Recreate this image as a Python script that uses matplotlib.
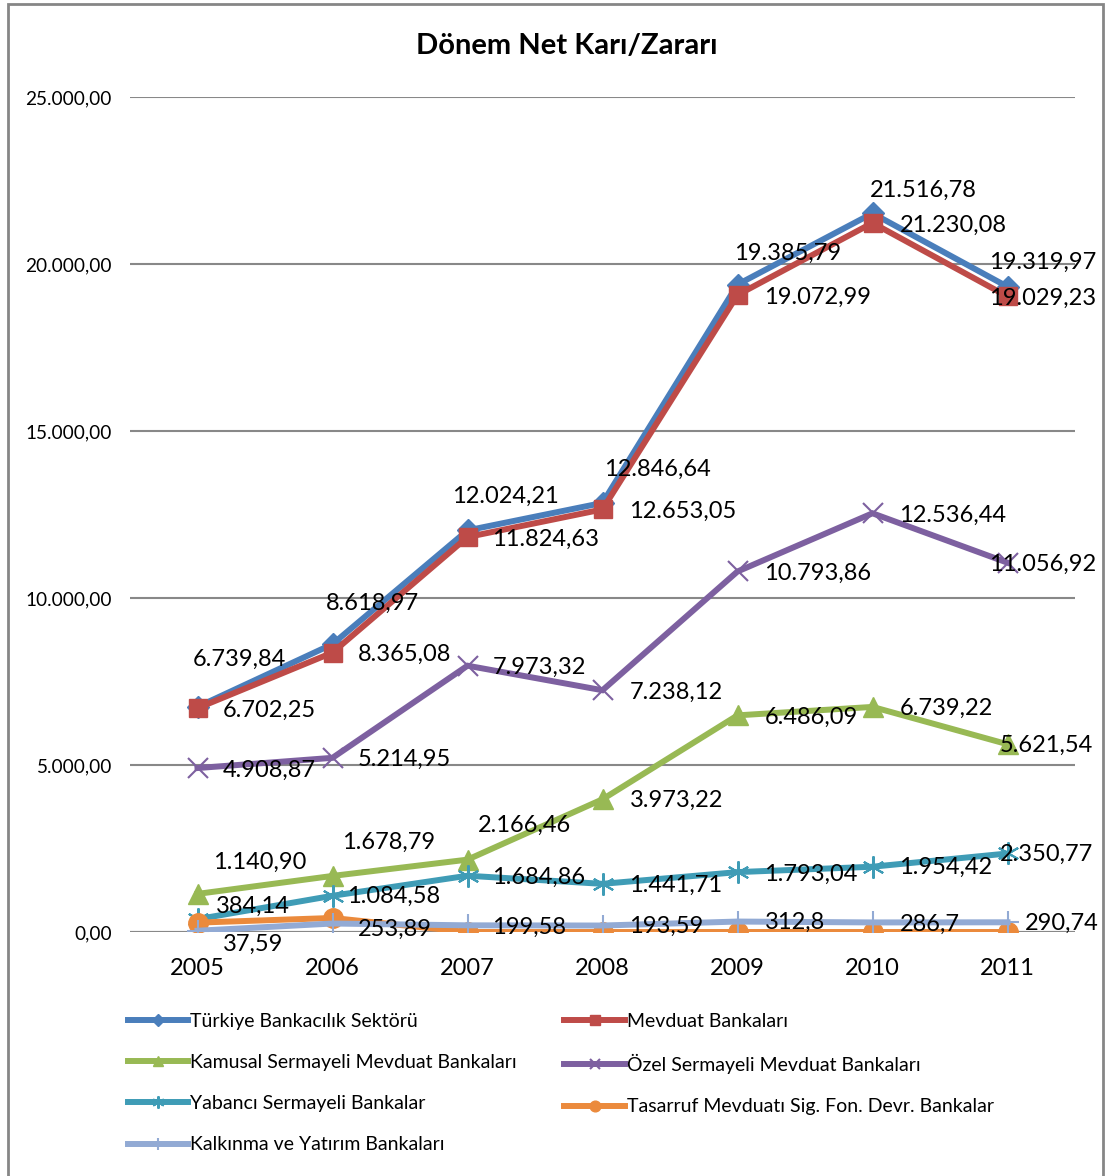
import matplotlib as mpl
mpl.use('Agg')
import matplotlib.pyplot as plt
from matplotlib.patches import Rectangle

plt.rcParams['font.family'] = ['Lato', 'DejaVu Sans']

years = ['2005', '2006', '2007', '2008', '2009', '2010', '2011']

turkiye = [6739.84, 8618.97, 12024.21, 12846.64, 19385.79, 21516.78, 19319.97]
mevduat = [6702.25, 8365.08, 11824.63, 12653.05, 19072.99, 21230.08, 19029.23]
kamusal = [1140.90, 1678.79, 2166.46, 3973.22, 6486.09, 6739.22, 5621.54]
ozel = [4908.87, 5214.95, 7973.32, 7238.12, 10793.86, 12536.44, 11056.92]
yabanci = [384.14, 1084.58, 1684.86, 1441.71, 1793.04, 1954.42, 2350.77]
tasarruf = [280.0, 420.0, 0.0, 0.0, 0.0, 0.0, 0.0]
kalkinma = [37.59, 253.89, 199.58, 193.59, 312.8, 286.7, 290.74]

names = ['Türkiye Bankacılık Sektörü', 'Mevduat Bankaları',
         'Kamusal Sermayeli Mevduat Bankaları', 'Özel Sermayeli Mevduat Bankaları',
         'Yabancı Sermayeli Bankalar', 'Tasarruf Mevduatı Sig. Fon. Devr. Bankalar',
         'Kalkınma ve Yatırım Bankaları']

yticks = [0, 5000, 10000, 15000, 20000, 25000]


def tr_fmt(v, dec=2):
    s = '{:,.{}f}'.format(v, dec)
    return s.replace(',', 'X').replace('.', ',').replace('X', '.')


# series: values, colour, marker, marker size, mew, show labels, label offsets (px)
series = [
    (turkiye, '#4A7EBB', 'D', 11, 1, True,
     [(-5, 48), (-7, 41), (-15, 34), (2, 34), (-3, 31), (-3, 23), (-18, 24)]),
    (mevduat, '#BE4B48', 's', 13, 1, True,
     [(25, -2), (25, -2), (25, -2), (27, -2), (27, -2), (27, -2), (-18, -2)]),
    (kamusal, '#98B954', '^', 14, 1, True,
     [(16, 32), (10, 34), (10, 34), (27, -1), (27, -2), (27, -1), (-8, -1)]),
    (ozel, '#7D60A0', 'x', 14, 1.5, True,
     [(25, -2), (25, -2), (25, -2), (27, -2), (27, -2), (27, -2), (-18, -2)]),
    (yabanci, '#3F9CB6', (6, 2, 0), 16, 1.5, True,
     [(18, 13), (15, -1), (25, -2), (27, -1), (27, -2), (27, -1), (-8, -1)]),
    (tasarruf, '#EB8A3C', 'o', 14, 1, False, None),
    (kalkinma, '#92AAD4', '+', 16, 1.5, True,
     [(25, -14), (25, -6), (25, -2), (27, -1), (27, -1), (27, -2), (17, -1)]),
]

W, H = 1105, 1176
fig = plt.figure(figsize=(W / 100, H / 100), dpi=100)
ax = fig.add_axes([130 / W, 1 - 932 / H, (1075 - 130) / W, (932 - 97) / H])

x = list(range(len(years)))
handles = []
for (vals, col, mk, ms, mew, show, offs), name in zip(series, names):
    ln, = ax.plot(x, vals, color=col, lw=4.3, marker=mk, markersize=ms,
                  markeredgewidth=mew, markeredgecolor=col, markerfacecolor=col,
                  label=name, solid_joinstyle='miter', zorder=3)
    handles.append(ln)
    if show:
        for xi, v, (dx, dy) in zip(x, vals, offs):
            s = tr_fmt(v)
            if name.startswith('Kalkınma'):
                s = ('{:.2f}'.format(v)).rstrip('0').replace('.', ',')
            ax.annotate(s, (xi, v), xytext=(dx, dy), textcoords='offset pixels',
                        ha='left', va='center', fontsize=17, color='black', zorder=5)

ax.set_xlim(-0.5, 6.5)
ax.set_ylim(0, 25000)
ax.set_yticks(yticks)
ax.set_yticklabels([tr_fmt(t) for t in yticks], fontsize=13.7)
ax.set_xticks(x)
ax.set_xticklabels(years, fontsize=17)
ax.tick_params(length=0)
ax.tick_params(axis='y', pad=13)
ax.tick_params(axis='x', pad=19)
for sp in ax.spines.values():
    sp.set_visible(False)
ax.grid(axis='y', color='#888888', lw=1.5)
ax.axhline(0, color='#888888', lw=1.5, zorder=2)
ax.set_axisbelow(True)

fig.text(567 / W, 1 - 46 / H, 'Dönem Net Karı/Zararı', ha='center', va='center',
         fontsize=21, fontweight='bold')

order = [0, 2, 4, 6, 1, 3, 5]
leg = fig.legend([handles[i] for i in order], [names[i] for i in order],
                 loc='upper left', bbox_to_anchor=(128 / W, 1 - 1013 / H),
                 ncol=2, frameon=False, fontsize=14, handlelength=3.1,
                 handletextpad=0.1, labelspacing=1.24, columnspacing=2.45,
                 borderaxespad=0, borderpad=0, markerscale=0.55)

fig.patches.append(Rectangle((8 / W, -0.05), (1103 - 8) / W, 1.05 - 4 / H,
                             transform=fig.transFigure, fill=False,
                             edgecolor='#868686', lw=2))

fig.savefig('out.png', dpi=100)
